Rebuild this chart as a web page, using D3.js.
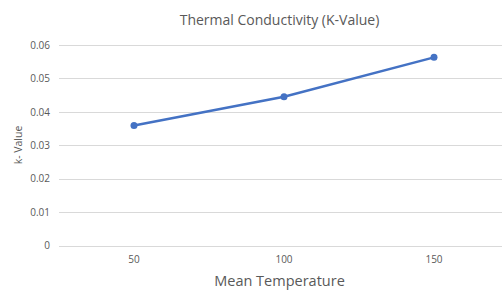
<!DOCTYPE html>
<html>
<head>
<meta charset="utf-8">
<script src="https://cdn.jsdelivr.net/npm/d3@7"></script>
<style>
  body { margin: 0; background: #fff; }
  text { font-family: "Open Sans", sans-serif; fill: #595959; }
</style>
</head>
<body>
<div id="chart"></div>
<script>
var w = 502;
var h = 291;

// data
var temps = ["50", "100", "150"];
var kValues = [0.0359, 0.0445, 0.0563];
var yTicks = [0, 0.01, 0.02, 0.03, 0.04, 0.05, 0.06];

var plotLeft = 59, plotRight = 509, plotTop = 45, plotBottom = 245.6;

var svg = d3.select("#chart").append("svg")
  .attr("width", w)
  .attr("height", h);

var x = d3.scaleBand().domain(temps).range([plotLeft, plotRight]);
var y = d3.scaleLinear().domain([0, 0.06]).range([plotBottom, plotTop]);

// gridlines
svg.append("g")
  .selectAll("line")
  .data(yTicks)
  .enter()
  .append("line")
  .attr("x1", plotLeft)
  .attr("x2", w)
  .attr("y1", (d) => Math.round(y(d)) + 0.5)
  .attr("y2", (d) => Math.round(y(d)) + 0.5)
  .attr("stroke", "#d9d9d9")
  .attr("stroke-width", 1);

// y tick labels
var yAxis = svg.append("g")
  .attr("transform", "translate(" + (plotLeft - 9) + ",0)")
  .call(d3.axisLeft(y).tickValues(yTicks).tickSize(0).tickPadding(0)
    .tickFormat((d) => d === 0 ? "0" : d3.format(".2f")(d)));
yAxis.select(".domain").remove();
yAxis.selectAll("text")
  .attr("font-size", 10)
  .style("font-family", "'Open Sans', sans-serif")
  .attr("fill", "#595959");

// x tick labels
var xAxis = svg.append("g")
  .attr("transform", "translate(0," + (plotBottom + 10) + ")")
  .call(d3.axisBottom(x).tickSize(0).tickPadding(0));
xAxis.select(".domain").remove();
xAxis.selectAll("text")
  .attr("font-size", 10)
  .style("font-family", "'Open Sans', sans-serif")
  .attr("fill", "#595959");

// line
var line = d3.line()
  .x((d, i) => x(temps[i]) + x.bandwidth() / 2)
  .y((d) => y(d));

svg.append("path")
  .datum(kValues)
  .attr("d", line)
  .attr("fill", "none")
  .attr("stroke", "#4472c4")
  .attr("stroke-width", 2.5)
  .attr("stroke-linecap", "round");

svg.selectAll("circle")
  .data(kValues)
  .enter()
  .append("circle")
  .attr("cx", (d, i) => x(temps[i]) + x.bandwidth() / 2)
  .attr("cy", (d) => y(d))
  .attr("r", 3.5)
  .attr("fill", "#4472c4");

// titles
svg.append("text")
  .attr("x", 279.5)
  .attr("y", 25)
  .attr("text-anchor", "middle")
  .attr("font-size", 14)
  .text("Thermal Conductivity (K-Value)");

svg.append("text")
  .attr("x", 279.5)
  .attr("y", 286)
  .attr("text-anchor", "middle")
  .attr("font-size", 14.5)
  .text("Mean Temperature");

svg.append("text")
  .attr("transform", "translate(22,145) rotate(-90)")
  .attr("text-anchor", "middle")
  .attr("font-size", 10.5)
  .text("k- Value");
</script>
</body>
</html>
